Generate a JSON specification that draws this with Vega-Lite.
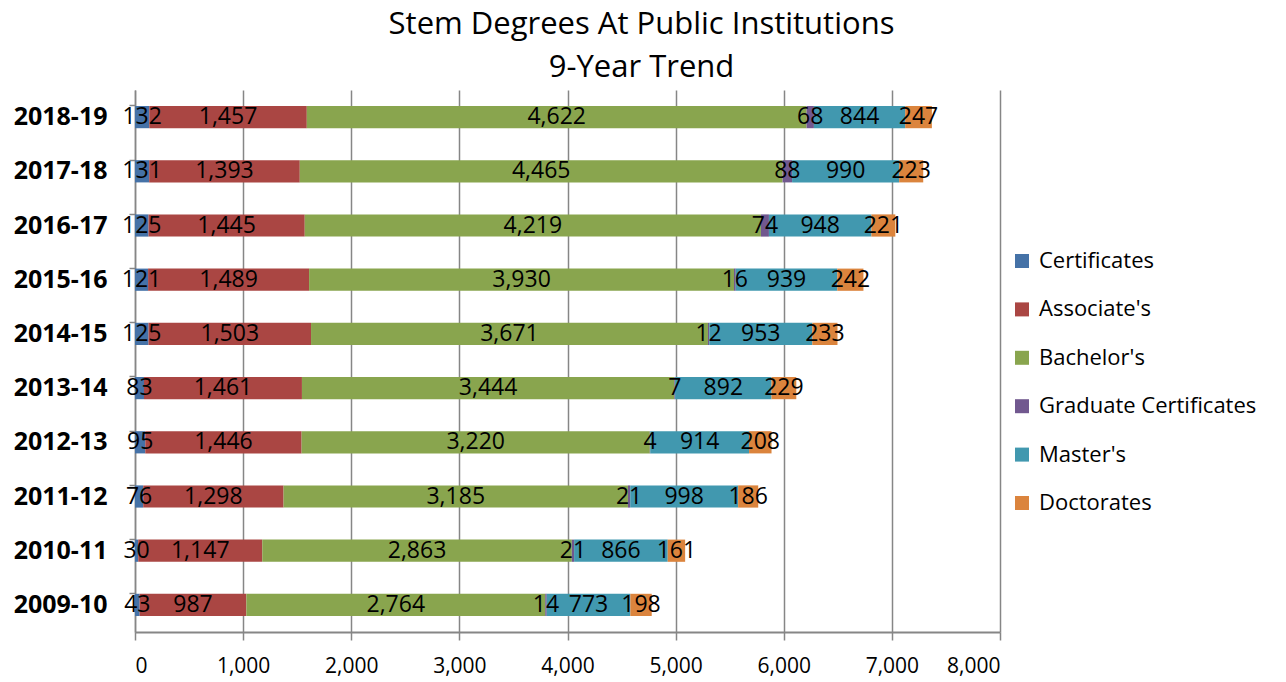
{
  "$schema": "https://vega.github.io/schema/vega-lite/v6.json",
  "width": 865,
  "height": 542,
  "autosize": "none",
  "padding": {"left": 135, "top": 90, "right": 286, "bottom": 50},
  "background": "white",
  "config": {"font": "Open Sans", "view": {"stroke": null}},
  "title": {
    "text": ["Stem Degrees At Public Institutions", "9-Year Trend"],
    "fontSize": 31,
    "fontWeight": "normal",
    "color": "black",
    "lineHeight": 43,
    "dx": 74,
    "offset": 6
  },
  "data": {"values": [
    {"year": "2018-19", "degree": "Certificates", "count": 132},
    {"year": "2018-19", "degree": "Associate's", "count": 1457},
    {"year": "2018-19", "degree": "Bachelor's", "count": 4622},
    {"year": "2018-19", "degree": "Graduate Certificates", "count": 68},
    {"year": "2018-19", "degree": "Master's", "count": 844},
    {"year": "2018-19", "degree": "Doctorates", "count": 247},
    {"year": "2017-18", "degree": "Certificates", "count": 131},
    {"year": "2017-18", "degree": "Associate's", "count": 1393},
    {"year": "2017-18", "degree": "Bachelor's", "count": 4465},
    {"year": "2017-18", "degree": "Graduate Certificates", "count": 88},
    {"year": "2017-18", "degree": "Master's", "count": 990},
    {"year": "2017-18", "degree": "Doctorates", "count": 223},
    {"year": "2016-17", "degree": "Certificates", "count": 125},
    {"year": "2016-17", "degree": "Associate's", "count": 1445},
    {"year": "2016-17", "degree": "Bachelor's", "count": 4219},
    {"year": "2016-17", "degree": "Graduate Certificates", "count": 74},
    {"year": "2016-17", "degree": "Master's", "count": 948},
    {"year": "2016-17", "degree": "Doctorates", "count": 221},
    {"year": "2015-16", "degree": "Certificates", "count": 121},
    {"year": "2015-16", "degree": "Associate's", "count": 1489},
    {"year": "2015-16", "degree": "Bachelor's", "count": 3930},
    {"year": "2015-16", "degree": "Graduate Certificates", "count": 16},
    {"year": "2015-16", "degree": "Master's", "count": 939},
    {"year": "2015-16", "degree": "Doctorates", "count": 242},
    {"year": "2014-15", "degree": "Certificates", "count": 125},
    {"year": "2014-15", "degree": "Associate's", "count": 1503},
    {"year": "2014-15", "degree": "Bachelor's", "count": 3671},
    {"year": "2014-15", "degree": "Graduate Certificates", "count": 12},
    {"year": "2014-15", "degree": "Master's", "count": 953},
    {"year": "2014-15", "degree": "Doctorates", "count": 233},
    {"year": "2013-14", "degree": "Certificates", "count": 83},
    {"year": "2013-14", "degree": "Associate's", "count": 1461},
    {"year": "2013-14", "degree": "Bachelor's", "count": 3444},
    {"year": "2013-14", "degree": "Graduate Certificates", "count": 7},
    {"year": "2013-14", "degree": "Master's", "count": 892},
    {"year": "2013-14", "degree": "Doctorates", "count": 229},
    {"year": "2012-13", "degree": "Certificates", "count": 95},
    {"year": "2012-13", "degree": "Associate's", "count": 1446},
    {"year": "2012-13", "degree": "Bachelor's", "count": 3220},
    {"year": "2012-13", "degree": "Graduate Certificates", "count": 4},
    {"year": "2012-13", "degree": "Master's", "count": 914},
    {"year": "2012-13", "degree": "Doctorates", "count": 208},
    {"year": "2011-12", "degree": "Certificates", "count": 76},
    {"year": "2011-12", "degree": "Associate's", "count": 1298},
    {"year": "2011-12", "degree": "Bachelor's", "count": 3185},
    {"year": "2011-12", "degree": "Graduate Certificates", "count": 21},
    {"year": "2011-12", "degree": "Master's", "count": 998},
    {"year": "2011-12", "degree": "Doctorates", "count": 186},
    {"year": "2010-11", "degree": "Certificates", "count": 30},
    {"year": "2010-11", "degree": "Associate's", "count": 1147},
    {"year": "2010-11", "degree": "Bachelor's", "count": 2863},
    {"year": "2010-11", "degree": "Graduate Certificates", "count": 21},
    {"year": "2010-11", "degree": "Master's", "count": 866},
    {"year": "2010-11", "degree": "Doctorates", "count": 161},
    {"year": "2009-10", "degree": "Certificates", "count": 43},
    {"year": "2009-10", "degree": "Associate's", "count": 987},
    {"year": "2009-10", "degree": "Bachelor's", "count": 2764},
    {"year": "2009-10", "degree": "Graduate Certificates", "count": 14},
    {"year": "2009-10", "degree": "Master's", "count": 773},
    {"year": "2009-10", "degree": "Doctorates", "count": 198}
  ]},
  "transform": [
    {"calculate": "indexof(['Certificates','Associate\\'s','Bachelor\\'s','Graduate Certificates','Master\\'s','Doctorates'], datum.degree)", "as": "ord"},
    {"stack": "count", "groupby": ["year"], "sort": [{"field": "ord", "order": "ascending"}], "as": ["x0", "x1"]},
    {"calculate": "(datum.x0 + datum.x1) / 2", "as": "xmid"}
  ],
  "encoding": {
    "y": {
      "field": "year",
      "type": "nominal",
      "sort": ["2018-19","2017-18","2016-17","2015-16","2014-15","2013-14","2012-13","2011-12","2010-11","2009-10"],
      "scale": {"paddingInner": 0.59, "paddingOuter": 0.295},
      "axis": {
        "title": null,
        "labelFontSize": 25,
        "labelFontWeight": "bold",
        "labelColor": "black",
        "labelPadding": 22,
        "bandPosition": 0,
        "tickSize": 6,
        "tickColor": "#868686",
        "tickWidth": 1.5,
        "domainColor": "#868686",
        "domainWidth": 1.5
      }
    }
  },
  "layer": [
    {
      "mark": {"type": "bar"},
      "encoding": {
        "x": {
          "field": "x0",
          "type": "quantitative",
          "scale": {"domain": [0, 8000], "nice": false},
          "axis": {
            "title": null,
            "values": [0,1000,2000,3000,4000,5000,6000,7000,8000],
            "format": ",d",
            "labelFontSize": 21,
            "labelColor": "black",
            "labelPadding": 15,
            "tickSize": 8,
            "tickColor": "#868686",
            "tickWidth": 1.5,
            "domainColor": "#868686",
            "domainWidth": 2,
            "grid": true,
            "gridColor": "#868686",
            "gridWidth": 1.5
          }
        },
        "x2": {"field": "x1"},
        "color": {
          "field": "degree",
          "type": "nominal",
          "sort": ["Certificates","Associate's","Bachelor's","Graduate Certificates","Master's","Doctorates"],
          "scale": {
            "domain": ["Certificates","Associate's","Bachelor's","Graduate Certificates","Master's","Doctorates"],
            "range": ["#4572A7","#AA4643","#89A54E","#71588F","#4198AF","#DB843D"]
          },
          "legend": {
            "title": null,
            "orient": "none",
            "legendX": 876,
            "legendY": 160,
            "symbolType": "square",
            "symbolSize": 196,
            "symbolStrokeWidth": 0,
            "labelFontSize": 22,
            "labelColor": "black",
            "labelOffset": 6,
            "rowPadding": 26.4,
            "labelLimit": 300
          }
        }
      }
    },
    {
      "mark": {"type": "text", "fontSize": 23, "color": "black", "baseline": "middle", "align": "center"},
      "encoding": {
        "x": {"field": "xmid", "type": "quantitative"},
        "text": {"field": "count", "type": "quantitative", "format": ","}
      }
    }
  ]
}
